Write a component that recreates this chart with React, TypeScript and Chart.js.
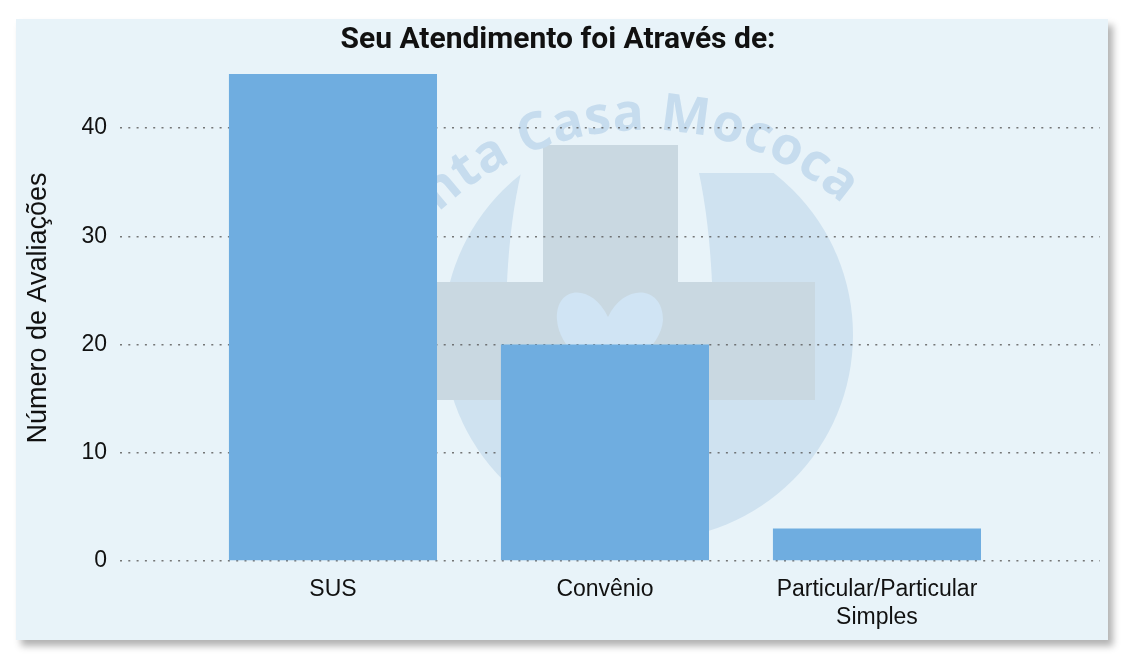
import React, { useEffect, useRef } from "react";
import { Chart, registerables } from "chart.js";

Chart.register(...registerables);

// ---- data ----
const categories: string[][] = [["SUS"], ["Convênio"], ["Particular/Particular", "Simples"]];
const values: number[] = [45, 20, 3];
const yTickValues: number[] = [0, 10, 20, 30, 40];
const chartTitle = "Seu Atendimento foi Através de:";
const yAxisTitle = "Número de Avaliações";
const watermarkText = "Santa Casa Mococa";

const PANEL_BG = "#e8f3f9";
const BAR_COLOR = "#6fade0";

const watermarkPlugin = {
  id: "watermark",
  beforeDraw(chart: any) {
    const ctx: CanvasRenderingContext2D = chart.ctx;
    ctx.save();
    ctx.translate(-16, -19); // page coordinates
    // circle (clipped at top)
    ctx.save();
    ctx.beginPath();
    ctx.rect(0, 173, 1122, 500);
    ctx.clip();
    ctx.beginPath();
    ctx.arc(648, 335, 205, 0, Math.PI * 2);
    ctx.fillStyle = "#cfe2f0";
    ctx.fill();
    ctx.restore();
    // slits
    ctx.fillStyle = PANEL_BG;
    ctx.beginPath();
    ctx.moveTo(521, 173);
    ctx.lineTo(543, 173);
    ctx.lineTo(543, 282);
    ctx.lineTo(507, 282);
    ctx.quadraticCurveTo(510, 220, 521, 173);
    ctx.fill();
    ctx.beginPath();
    ctx.moveTo(678, 173);
    ctx.lineTo(699, 173);
    ctx.quadraticCurveTo(709, 220, 712, 282);
    ctx.lineTo(678, 282);
    ctx.fill();
    // cross
    ctx.fillStyle = "#c9d8e1";
    ctx.fillRect(543, 145, 135, 390);
    ctx.fillRect(405, 282, 410, 118);
    // heart
    ctx.fillStyle = "#d0e4f4";
    ctx.beginPath();
    ctx.moveTo(608, 317);
    ctx.bezierCurveTo(592, 283, 555, 285, 557, 320);
    ctx.bezierCurveTo(559, 348, 590, 368, 608, 388);
    ctx.bezierCurveTo(626, 368, 661, 348, 663, 320);
    ctx.bezierCurveTo(663, 285, 624, 283, 608, 317);
    ctx.fill();
    // arc text
    ctx.fillStyle = "#c6dcee";
    ctx.font = "bold 52px 'Open Sans'";
    ctx.textAlign = "center";
    ctx.textBaseline = "alphabetic";
    const cx = 645, cy = 430, R = 300;
    const widths = Array.from(watermarkText).map((ch) => ctx.measureText(ch).width * 1.02);
    const total = widths.reduce((a, b) => a + b, 0);
    let acc = 0;
    const center = (-97 * Math.PI) / 180;
    const start = center - total / R / 2;
    Array.from(watermarkText).forEach((ch, i) => {
      const a = start + (acc + widths[i] / 2) / R;
      acc += widths[i];
      ctx.save();
      ctx.translate(cx + R * Math.cos(a), cy + R * Math.sin(a));
      ctx.rotate(a + Math.PI / 2);
      ctx.fillText(ch, 0, 0);
      ctx.restore();
    });
    ctx.restore();
  },
};

export default function App() {
  const ref = useRef<HTMLCanvasElement | null>(null);

  useEffect(() => {
    if (!ref.current) return;
    const chart = new Chart(ref.current, {
      type: "bar",
      data: {
        datasets: [
          {
            data: values.map((v, i) => ({ x: i, y: v })),
            backgroundColor: BAR_COLOR,
            borderWidth: 0,
            barPercentage: 0.765,
            categoryPercentage: 1,
          },
        ],
      },
      plugins: [watermarkPlugin],
      options: {
        animation: false,
        responsive: false,
        maintainAspectRatio: false,
        layout: { padding: { left: 0, right: 8, top: 0, bottom: 0 } },
        plugins: {
          legend: { display: false },
          tooltip: { enabled: false },
          title: {
            display: true,
            text: chartTitle,
            color: "#111",
            font: { family: "Roboto", size: 30, weight: "bold", lineHeight: 1 },
            padding: { top: 6, bottom: 0 },
          },
        },
        scales: {
          x: {
            type: "linear",
            offset: false,
            bounds: "ticks",
            min: -0.783,
            max: 2.82,
            grid: { display: false, drawTicks: false, offset: false },
            border: { display: false },
            afterBuildTicks: (scale: any) => {
              scale.ticks = categories.map((_, i) => ({ value: i }));
            },
            afterFit: (scale: any) => {
              scale.height = 79;
            },
            ticks: {
              autoSkip: false,
              maxRotation: 0,
              padding: 15,
              color: "#111",
              font: { family: "'Liberation Sans', Arial", size: 23 },
              callback: (v: any) => categories[Math.round(Number(v))] ?? "",
            },
          },
          y: {
            min: 0,
            max: 46.76,
            afterBuildTicks: (scale: any) => {
              scale.ticks = yTickValues.map((v) => ({ value: v }));
            },
            afterFit: (scale: any) => {
              scale.width = 104;
            },
            grid: {
              color: "rgba(95,95,95,0.85)",
              lineWidth: 1.6,
              drawTicks: false,
              borderDash: [2, 6.3],
            } as any,
            border: { display: false, dash: [2, 6.3] },
            ticks: {
              padding: 13,
              color: "#111",
              font: { family: "'Liberation Sans', Arial", size: 23 },
            },
            title: {
              display: true,
              text: yAxisTitle,
              color: "#111",
              font: { family: "'Liberation Sans', Arial", size: 27 },
              padding: { top: 6, bottom: 0 },
            },
          },
        },
      } as any,
    });
    return () => chart.destroy();
  }, []);

  return (
    <div style={{ position: "fixed", left: 0, top: 0, width: 1122, height: 659, background: "#ffffff" }}>
      <div
        style={{
          position: "absolute",
          left: 16,
          top: 19,
          width: 1092,
          height: 621,
          background: PANEL_BG,
          boxShadow: "5px 6px 7px rgba(0,0,0,0.3)",
        }}
      >
        <canvas ref={ref} width={1092} height={621} style={{ display: "block", width: 1092, height: 621 }} />
      </div>
    </div>
  );
}
